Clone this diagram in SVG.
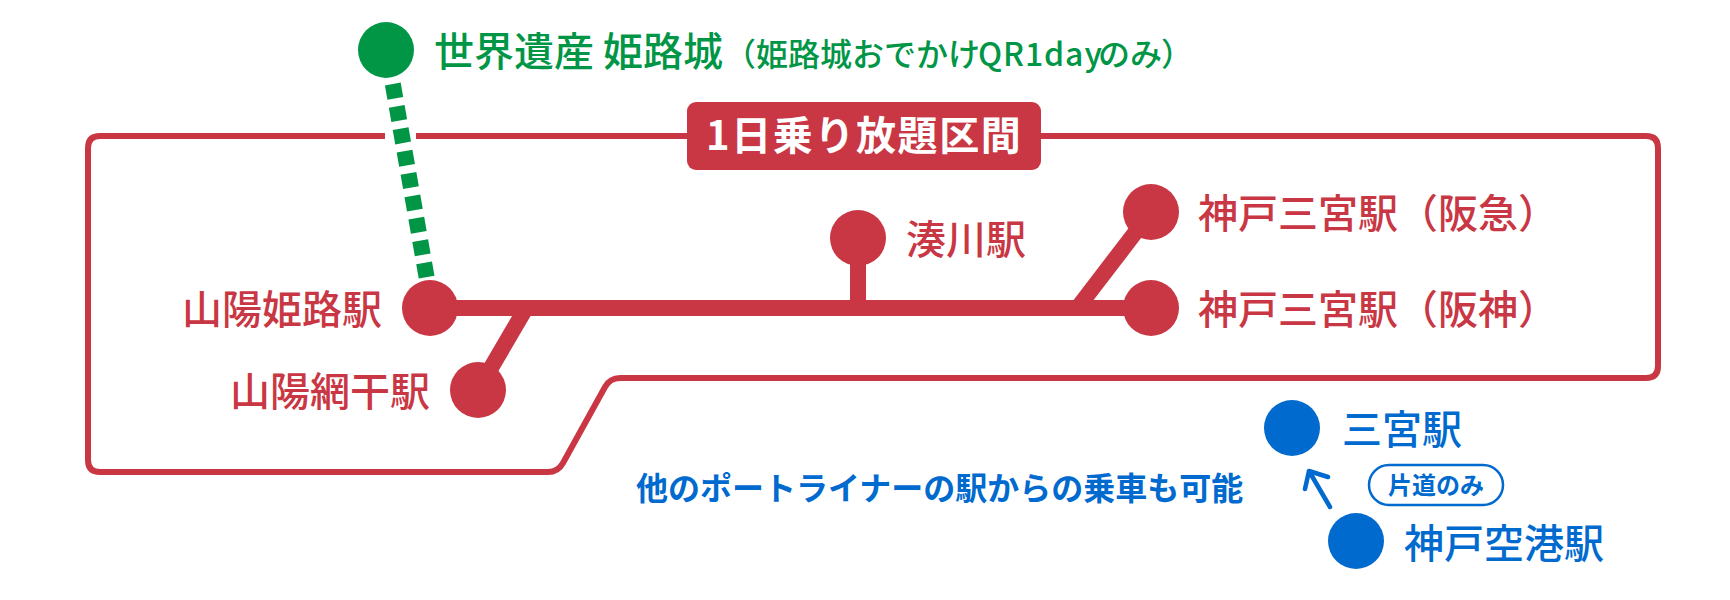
<svg xmlns="http://www.w3.org/2000/svg" width="1730" height="600" viewBox="0 0 1730 600">
<style>
text{font-family:"Noto Sans CJK JP","Noto Sans",sans-serif;font-weight:500}
.r{fill:#c93744}.g{fill:#009646}.b{fill:#006acf}
.l{font-size:40px}
.rl{stroke:#c93744;stroke-width:16;fill:none}
.st{font-size:32px;font-weight:700}
</style>
<rect width="1730" height="600" fill="#fff"/>
<g id="connectors">
<path id="frame" d="M416 136H1646Q1658 136 1658 148V366Q1658 378 1646 378H620Q610 378 605 387L563 463Q558 472 548 472H100Q88 472 88 460V148Q88 136 100 136H385" fill="none" stroke="#c93744" stroke-width="6"/>
<line x1="392.8" y1="84" x2="432" y2="308" stroke="#009646" stroke-width="16" stroke-dasharray="14.5 8.2"/>
<path class="rl" d="M430 308H1151"/>
<path class="rl" d="M478 390L526 308"/>
<path class="rl" d="M858 238V308"/>
<path class="rl" d="M1151 212L1079 306"/>
<path d="M1330 507L1309 471M1305 489L1309 471L1328 477" fill="none" stroke="#006acf" stroke-width="4.5" stroke-linecap="round" stroke-linejoin="round"/>
</g>
<g id="node-himeji-castle"><circle class="g" cx="386" cy="50" r="28"/><text class="l g" x="434" y="66">世界遺産 姫路城</text><text class="g" y="66" font-size="32"><tspan x="724">（姫路城おでかけ</tspan><tspan x="978" letter-spacing="0.9">QR1day</tspan><tspan x="1098">のみ</tspan><tspan x="1161">）</tspan></text></g>
<g id="node-label"><rect class="r" x="687" y="102" width="354" height="68" rx="9"/><text x="706" y="150" font-size="40" letter-spacing="1.6" fill="#fff" style="font-weight:700">1日乗り放題区間</text></g>
<g id="node-sanyo-himeji"><circle class="r" cx="430" cy="308" r="28"/><text class="l r" x="382" y="324" text-anchor="end">山陽姫路駅</text></g>
<g id="node-sanyo-aboshi"><circle class="r" cx="478" cy="390" r="28"/><text class="l r" x="430" y="406" text-anchor="end">山陽網干駅</text></g>
<g id="node-minatogawa"><circle class="r" cx="858" cy="238" r="28"/><text class="l r" x="906" y="254">湊川駅</text></g>
<g id="node-hankyu"><circle class="r" cx="1151" cy="212" r="28"/><text class="l r" x="1198" y="228">神戸三宮駅（阪急）</text></g>
<g id="node-hanshin"><circle class="r" cx="1151" cy="308" r="28"/><text class="l r" x="1198" y="324">神戸三宮駅（阪神）</text></g>
<g id="node-sannomiya"><circle class="b" cx="1292" cy="428" r="28"/><text class="l b" x="1342" y="444">三宮駅</text></g>
<g id="node-kobe-airport"><circle class="b" cx="1356" cy="541" r="28"/><text class="l b" x="1404" y="558">神戸空港駅</text></g>
<g id="note"><text class="st b" x="636" y="500">他のポートライナーの駅からの乗車も可能</text></g>
<g id="pill"><rect x="1369" y="465" width="134" height="40" rx="20" fill="#fff" stroke="#006acf" stroke-width="2.5"/><text class="b" x="1436" y="494" font-size="24" text-anchor="middle" style="font-weight:700">片道のみ</text></g>
</svg>
